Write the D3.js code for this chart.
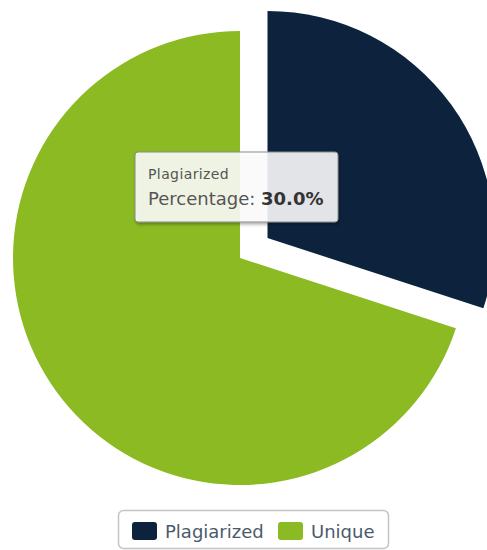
<!DOCTYPE html>
<html>
<head>
<meta charset="utf-8">
<script src="https://cdnjs.cloudflare.com/ajax/libs/d3/7.8.5/d3.min.js"></script>
<style>
    body { margin: 0; background: #fff; }
    svg { display: block; font-family: "DejaVu Sans", Verdana, sans-serif; }
</style>
</head>
<body>
<div id="chart"></div>
<script>
// data
var categories = ["Plagiarized", "Unique"];
var values = [30, 70];
var colors = ["#0d223d", "#8cba22"];

var width = 487;
var height = 550;
var cx = 240, cy = 258;
var radius = 227;
var explode = 34;

var svg = d3.select("#chart")
    .append("svg")
    .attr("width", width)
    .attr("height", height);

var defs = svg.append("defs");
var shadow = defs.append("filter")
    .attr("id", "shadow")
    .attr("x", "-10%").attr("y", "-10%")
    .attr("width", "130%").attr("height", "140%");
shadow.append("feDropShadow")
    .attr("dx", 1).attr("dy", 2)
    .attr("stdDeviation", 1.5)
    .attr("flood-color", "#000")
    .attr("flood-opacity", 0.35);

var color = d3.scaleOrdinal()
    .domain(categories)
    .range(colors);

var pie = d3.pie().sort(null);
var arc = d3.arc().innerRadius(0).outerRadius(radius);

var data = pie(values);
var total = d3.sum(values);

var g = svg.append("g")
    .attr("transform", "translate(" + cx + "," + cy + ")");

g.selectAll(".arc")
    .data(data)
    .enter().append("path")
    .attr("class", "arc")
    .attr("d", arc)
    .attr("fill", function(d, i) { return color(categories[i]); })
    .attr("transform", function(d, i) {
        if (i != 0) return null;
        var a = (d.startAngle + d.endAngle) / 2;
        return "translate(" + (Math.sin(a) * explode) + "," + (-Math.cos(a) * explode) + ")";
    });

// tooltip for the exploded slice
var tip = svg.append("g")
    .attr("transform", "translate(135,152)");

tip.append("rect")
    .attr("width", 203)
    .attr("height", 70)
    .attr("rx", 3)
    .attr("fill", "#fff")
    .attr("fill-opacity", 0.86)
    .attr("stroke", "#8a8a8a")
    .attr("stroke-width", 1)
    .attr("filter", "url(#shadow)");

tip.append("text")
    .attr("x", 13)
    .attr("y", 27)
    .attr("font-size", 14)
    .attr("letter-spacing", 0.4)
    .attr("fill", "#555")
    .text(categories[0]);

var line = tip.append("text")
    .attr("x", 13)
    .attr("y", 53)
    .attr("font-size", 18)
    .attr("fill", "#555");
line.append("tspan").text("Percentage: ");
line.append("tspan")
    .attr("font-weight", "bold")
    .attr("fill", "#333")
    .text(d3.format(".1f")(values[0] / total * 100) + "%");

// legend
var legend = svg.append("g")
    .attr("transform", "translate(118,510)");

legend.append("rect")
    .attr("x", 0.5).attr("y", 0.5)
    .attr("width", 270)
    .attr("height", 38)
    .attr("rx", 5)
    .attr("fill", "#fff")
    .attr("stroke", "#c4c4c4")
    .attr("stroke-width", 1.5);

var itemX = [14, 160];
var items = legend.selectAll(".item")
    .data(categories)
    .enter().append("g")
    .attr("class", "item")
    .attr("transform", function(d, i) { return "translate(" + itemX[i] + ",12)"; });

items.append("rect")
    .attr("width", 25)
    .attr("height", 18)
    .attr("rx", 3)
    .attr("fill", function(d) { return color(d); });

items.append("text")
    .attr("x", 33)
    .attr("y", 16)
    .attr("font-size", 18)
    .attr("fill", "#4b5a6b")
    .text(function(d) { return d; });
</script>
</body>
</html>
